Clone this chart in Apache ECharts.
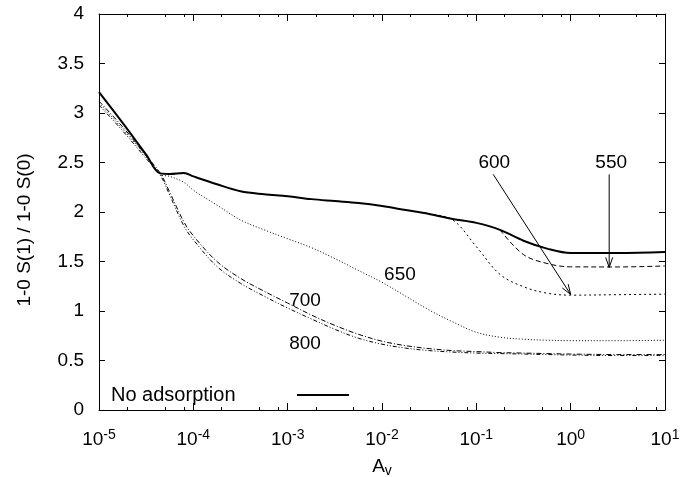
<!DOCTYPE html>
<html><head><meta charset="utf-8">
<script src="https://cdn.jsdelivr.net/npm/echarts@6/dist/echarts.min.js"></script>
<style>html,body{margin:0;padding:0;background:#fff}#c{width:697px;height:477px}</style>
</head><body><div id="c"></div>
<script>
// A_v sample positions (shared by all curves)
const av = [1e-5, 1.78e-5, 3.16e-5, 4.47e-5, 5.62e-5, 7.94e-5, 1e-4, 1.78e-4, 3.16e-4, 5.62e-4,
            1e-3, 1.78e-3, 3.16e-3, 5.62e-3, 1e-2, 1.78e-2, 3.16e-2, 5.62e-2, 0.1, 0.178,
            0.316, 0.562, 1, 3.16, 10];
const noAdsorption = [3.21, 2.90, 2.58, 2.39, 2.385, 2.395, 2.36, 2.28, 2.21, 2.18,
                      2.16, 2.13, 2.11, 2.09, 2.06, 2.02, 1.98, 1.93, 1.89, 1.82,
                      1.71, 1.63, 1.585, 1.585, 1.595];
const s550 = [null, null, null, null, null, null, null, null, null, null,
              null, null, null, null, null, null, null, null, null, 1.82,
              1.57, 1.48, 1.446, 1.445, 1.455];
const s600 = [null, null, null, null, null, null, null, null, null, null,
              null, null, null, null, null, null, 1.98, 1.92, 1.65, 1.37,
              1.245, 1.18, 1.16, 1.165, 1.17];
const s650 = [3.10, 2.84, 2.56, 2.38, 2.36, 2.30, 2.22, 2.07, 1.92, 1.82,
              1.73, 1.64, 1.53, 1.41, 1.29, 1.15, 1.01, 0.89, 0.785, 0.735,
              0.715, 0.705, 0.70, 0.70, 0.705];
const s700 = [3.12, 2.86, 2.57, 2.39, 2.20, 1.90, 1.76, 1.50, 1.33, 1.20,
              1.08, 0.96, 0.855, 0.765, 0.695, 0.65, 0.62, 0.60, 0.59, 0.58,
              0.575, 0.57, 0.565, 0.56, 0.56];
const s800 = [3.08, 2.82, 2.54, 2.37, 2.17, 1.86, 1.72, 1.45, 1.28, 1.15,
              1.03, 0.92, 0.815, 0.725, 0.665, 0.625, 0.60, 0.585, 0.575, 0.57,
              0.565, 0.56, 0.555, 0.55, 0.55];
const minorMultipliers = [2, 5, 8];
const yTicks = [0, 0.5, 1, 1.5, 2, 2.5, 3, 3.5, 4];

// annotations (data coordinates)
const labelTexts = ['550', '600', '650', '700', '800'];
const labelAt = [[2.69, 2.50], [0.155, 2.50], [0.0155, 1.37], [1.53e-3, 1.105], [1.53e-3, 0.67]];
const arrowFrom = [[2.56, 2.38], [0.151, 2.38]];
const arrowTo = [[2.56, 1.44], [1.0, 1.167]];

const FONT = '"Liberation Sans", Arial, sans-serif';
const pair = ys => av.map((x, i) => [x, ys[i]]);
const minorLog = [];
for (let k = -5; k < 1; k++) minorMultipliers.forEach(m => minorLog.push(k + Math.log10(m)));

const chart = echarts.init(document.getElementById('c'), null, {renderer: 'canvas'});
const lineBase = {type: 'line', showSymbol: false, smooth: 0.35,
                  xAxisIndex: 0, yAxisIndex: 0, silent: true, connectNulls: false};
const frame = {show: true, onZero: false, lineStyle: {color: '#000', width: 1}};
const noLine = {show: false, onZero: false};
chart.setOption({
  animation: false,
  textStyle: {fontFamily: FONT, color: '#000'},
  grid: {left: 99, right: 32, top: 14, bottom: 67, containLabel: false, outerBoundsMode: 'none'},
  legend: {
    data: ['No adsorption'], left: 111, top: 385, padding: 0, align: 'right',
    icon: 'rect', itemWidth: 52, itemHeight: 2, selectedMode: false,
    formatter: n => '{t|' + n + '}',
    textStyle: {fontSize: 20, color: '#000', fontFamily: FONT,
                rich: {t: {width: 181, align: 'left', fontSize: 20, color: '#000', fontFamily: FONT}}}
  },
  xAxis: [
    {type: 'log', logBase: 10, min: 1e-5, max: 10, interval: 1, position: 'bottom',
     axisLine: frame, splitLine: {show: false},
     axisTick: {inside: true, length: 7, lineStyle: {color: '#000'}},
     axisLabel: {margin: 18, formatter: v => '{b|10}{s|' + Math.round(Math.log10(v)) + '}',
                 rich: {b: {fontSize: 19, lineHeight: 24, fontFamily: FONT, color: '#000'},
                        s: {fontSize: 14, lineHeight: 14, verticalAlign: 'top', fontFamily: FONT, color: '#000'}}},
     name: '{a|A}{v|v}', nameLocation: 'middle', nameGap: 46,
     nameTextStyle: {rich: {a: {fontSize: 19, fontFamily: FONT, color: '#000', lineHeight: 22},
                            v: {fontSize: 14, fontFamily: FONT, color: '#000', verticalAlign: 'bottom', lineHeight: 14}}}},
    {type: 'value', min: -5, max: 1, position: 'bottom', axisLine: noLine,
     splitLine: {show: false}, axisLabel: {show: false},
     axisTick: {inside: true, length: 3, customValues: minorLog, lineStyle: {color: '#000'}}},
    {type: 'log', logBase: 10, min: 1e-5, max: 10, interval: 1, position: 'top',
     axisLine: frame, splitLine: {show: false}, axisLabel: {show: false},
     axisTick: {inside: true, length: 7, lineStyle: {color: '#000'}}},
    {type: 'value', min: -5, max: 1, position: 'top', axisLine: noLine,
     splitLine: {show: false}, axisLabel: {show: false},
     axisTick: {inside: true, length: 3, customValues: minorLog, lineStyle: {color: '#000'}}}
  ],
  yAxis: [
    {type: 'value', min: 0, max: 4, interval: 0.5, position: 'left',
     axisLine: frame, splitLine: {show: false},
     axisTick: {inside: true, length: 6, lineStyle: {color: '#000'}},
     axisLabel: {margin: 15, fontSize: 19, color: '#000', fontFamily: FONT, customValues: yTicks},
     name: '1-0 S(1) / 1-0 S(0)', nameLocation: 'middle', nameGap: 65, nameRotate: 90,
     nameTextStyle: {fontSize: 19, color: '#000', fontFamily: FONT, padding: [0, 36, 0, 0]}},
    {type: 'value', min: 0, max: 4, interval: 0.5, position: 'right',
     axisLine: frame, splitLine: {show: false}, axisLabel: {show: false},
     axisTick: {inside: true, length: 6, lineStyle: {color: '#000'}}}
  ],
  series: [
    Object.assign({}, lineBase, {name: 'No adsorption', data: pair(noAdsorption), z: 5,
      lineStyle: {color: '#000', width: 2}, itemStyle: {color: '#000'}}),
    Object.assign({}, lineBase, {name: '550', data: pair(s550),
      lineStyle: {color: '#000', width: 1, type: [5, 3]}}),
    Object.assign({}, lineBase, {name: '600', data: pair(s600),
      lineStyle: {color: '#000', width: 1, type: [2, 3]}}),
    Object.assign({}, lineBase, {name: '650', data: pair(s650),
      lineStyle: {color: '#000', width: 1, type: [1, 2]}}),
    Object.assign({}, lineBase, {name: '700', data: pair(s700),
      lineStyle: {color: '#000', width: 1, type: [5, 2, 1, 2]}}),
    Object.assign({}, lineBase, {name: '800', data: pair(s800),
      lineStyle: {color: '#000', width: 1, type: [4, 2, 1, 2, 1, 2]}})
  ]
});

// annotations placed through the chart's coordinate system
const toPx = p => chart.convertToPixel({xAxisIndex: 0, yAxisIndex: 0}, p);
const g = [];
labelTexts.forEach((t, i) => {
  const p = toPx(labelAt[i]);
  g.push({type: 'text', x: p[0], y: p[1], silent: true,
          style: {text: t, fontSize: 19, fontFamily: FONT, fill: '#000', align: 'center', verticalAlign: 'middle'}});
});
arrowFrom.forEach((f, i) => {
  const a = toPx(f), b = toPx(arrowTo[i]);
  const dx = b[0] - a[0], dy = b[1] - a[1], L = Math.hypot(dx, dy);
  const ux = dx / L, uy = dy / L, nx = -uy, ny = ux, hl = 10, hw = 3.5;
  g.push({type: 'line', silent: true, shape: {x1: a[0], y1: a[1], x2: b[0], y2: b[1]},
          style: {stroke: '#000', lineWidth: 1}});
  g.push({type: 'polyline', silent: true,
          shape: {points: [[b[0] - hl * ux + hw * nx, b[1] - hl * uy + hw * ny], b,
                           [b[0] - hl * ux - hw * nx, b[1] - hl * uy - hw * ny]]},
          style: {stroke: '#000', lineWidth: 1, fill: null}});
});
chart.setOption({graphic: g});
</script></body></html>
